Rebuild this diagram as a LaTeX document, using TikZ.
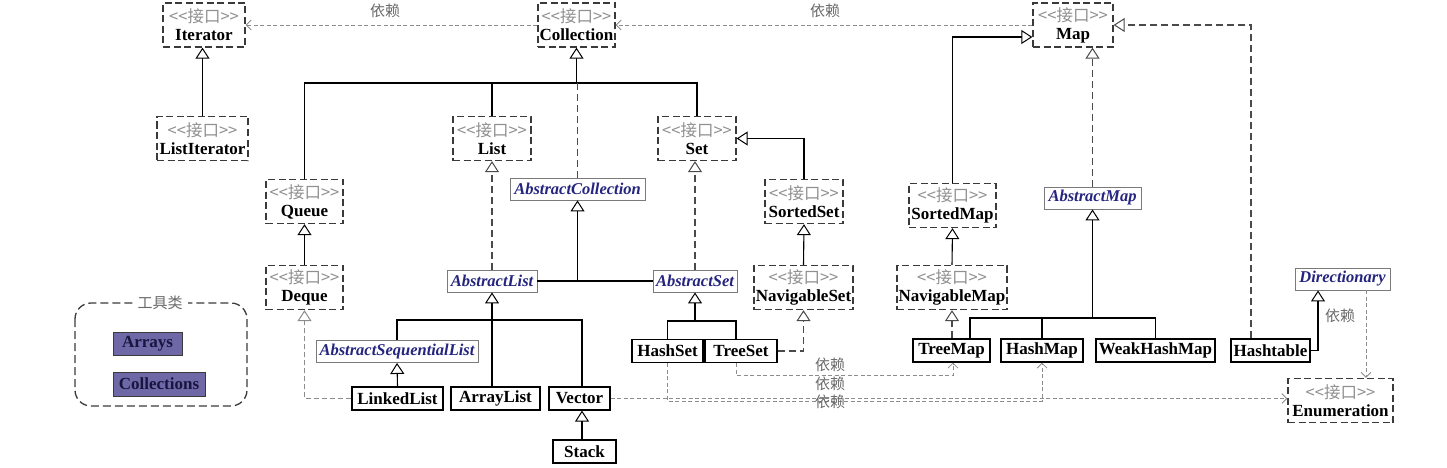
\documentclass[tikz,border=0pt]{standalone}
\usepackage{fontspec}
\setmainfont{Liberation Serif}
\newfontfamily\cjk{Noto Sans CJK SC}
\usetikzlibrary{arrows.meta}
\definecolor{boxdash}{HTML}{3A3A3A}
\definecolor{stgray}{HTML}{909090}
\definecolor{absblue}{HTML}{25257F}
\definecolor{absline}{HTML}{7A7A7A}
\definecolor{depgray}{HTML}{8C8C8C}
\definecolor{lblgray}{HTML}{6A6A6A}
\definecolor{toolfill}{HTML}{6F68A6}
\definecolor{tooltext}{HTML}{16163F}
\definecolor{realgray}{HTML}{4A4A4A}
\newcommand\nmfont{\fontsize{17}{18}\selectfont\bfseries}
\newcommand\absfont{\fontsize{16.5}{18}\selectfont\bfseries\itshape}
\newcommand\stfont{\cjk\mdseries\upshape\fontsize{16.5}{18}\selectfont}
\newcommand\lblfont{\cjk\mdseries\fontsize{15}{17}\selectfont}
\newcommand\stereo{{\stfont\color{stgray}<\kern0pt<接口>\kern0pt>}}
\tikzset{
  iface/.style={draw=boxdash, line width=1.3pt, dash pattern=on 7pt off 3.5pt,
    minimum height=44pt, inner sep=0pt, align=center, font=\nmfont, fill=white},
  absc/.style={draw=absline, line width=0.9pt, minimum height=22pt, inner sep=0pt,
    font=\absfont, text=absblue, fill=white},
  conc/.style={draw=black, line width=1.2pt, minimum height=23pt, inner sep=0pt,
    font=\nmfont, fill=white},
  toolc/.style={draw=boxdash, line width=0.8pt, fill=toolfill, text=tooltext,
    inner sep=0pt, font=\nmfont},
  inh/.style={line width=1.1pt, -{Triangle[open, length=11pt, width=14pt, fill=white, line width=1pt]}},
  real/.style={inh, draw=realgray, dash pattern=on 7pt off 4pt},
  dep/.style={draw=depgray, line width=0.8pt, dash pattern=on 4pt off 2.5pt,
    -{Straight Barb[length=5pt, width=10pt]}},
  lbl/.style={font=\lblfont, text=lblgray, inner sep=0pt},
}
\begin{document}
\begin{tikzpicture}[x=1pt, y=-1pt]
\useasboundingbox (0,0) rectangle (1447,468);
% ---------- interfaces ----------
\node[iface, minimum width=82pt]  (iterator)   at (204,25)     {\stereo\\[0pt]Iterator};
\node[iface, minimum width=77pt]  (collection) at (576.5,25)   {\stereo\\[0pt]Collection};
\node[iface, minimum width=80pt]  (map)        at (1073,25)    {\stereo\\[0pt]Map};
\node[iface, minimum width=91pt]  (listiter)   at (202.5,138.5){\stereo\\[0pt]ListIterator};
\node[iface, minimum width=78pt]  (list)       at (492,138.5)  {\stereo\\[0pt]List};
\node[iface, minimum width=78pt]  (set)        at (697,138.5)  {\stereo\\[0pt]Set};
\node[iface, minimum width=77pt]  (queue)      at (304.5,201.5){\stereo\\[0pt]Queue};
\node[iface, minimum width=78pt]  (sortedset)  at (804,201.5)  {\stereo\\[0pt]SortedSet};
\node[iface, minimum width=77pt]  (deque)      at (304.5,287.5){\stereo\\[0pt]Deque};
\node[iface, minimum width=99pt]  (navset)     at (803.5,287.5){\stereo\\[0pt]NavigableSet};
\node[iface, minimum width=87pt]  (sortedmap)  at (952.5,205.5){\stereo\\[0pt]SortedMap};
\node[iface, minimum width=110pt] (navmap)     at (952,287.5)  {\stereo\\[0pt]NavigableMap};
\node[iface, minimum width=105pt] (enumeration) at (1340.5,400.5){\stereo\\[0pt]Enumeration};
% ---------- abstract classes ----------
\node[absc, minimum width=135pt] (abscoll) at (577.5,189) {AbstractCollection};
\node[absc, minimum width=90pt]  (ablist)  at (492,281)   {AbstractList};
\node[absc, minimum width=84pt]  (abset)   at (695,281)   {AbstractSet};
\node[absc, minimum width=97pt]  (absmap)  at (1092.5,198){AbstractMap};
\node[absc, minimum width=95pt]  (dict)    at (1342.5,279){Directionary};
\node[absc, minimum width=162pt] (asl)     at (397,351.5) {AbstractSequentialList};
% ---------- concrete classes ----------
\node[conc, minimum width=91pt]  (linkedlist)  at (397.5,398.5) {LinkedList};
\node[conc, minimum width=89pt]  (arraylist)   at (495.5,398.5) {ArrayList};
\node[conc, minimum width=61pt]  (vector)      at (579.5,398.5) {Vector};
\node[conc, minimum width=63pt]  (stack)       at (584.5,451.5) {Stack};
\node[conc, minimum width=71pt]  (hashset)     at (667.5,351)   {HashSet};
\node[conc, minimum width=72pt]  (treeset)     at (741,351)     {TreeSet};
\node[conc, minimum width=77pt]  (treemap)     at (951.5,350.5) {TreeMap};
\node[conc, minimum width=82pt]  (hashmap)     at (1042,350.5)  {HashMap};
\node[conc, minimum width=119pt] (weakhashmap) at (1155.5,350.5){WeakHashMap};
\node[conc, minimum width=79pt]  (hashtable)   at (1270.5,350.5){Hashtable};
% ---------- tools ----------
\draw[draw=boxdash, line width=1.3pt, dash pattern=on 8pt off 4pt, rounded corners=16pt]
  (75,303) rectangle (247,406);
\node[lbl, fill=white, inner xsep=5pt] (toollbl) at (160,303) {工具类};
\node[toolc, minimum width=69pt, minimum height=23pt] (arrays) at (147.5,343.5) {Arrays};
\node[toolc, minimum width=92pt, minimum height=24pt] (collections) at (159,384) {Collections};
% ---------- dependencies top ----------
\draw[dep] (collection.west) -- (iterator.east);
\draw[dep] (map.west) -- (collection.east);
\node[lbl] (l1) at (385,11) {依赖};
\node[lbl] (l2) at (825,11) {依赖};
% ---------- Collection hierarchy ----------
\coordinate (cj) at (576.5,83);
\draw[inh] (cj) -- (collection.south);
\draw[line width=1.1pt] (queue.north) |- (cj) -| (set.north);
\draw[line width=1.1pt] (list.north) -- (list.north |- cj);
\draw[draw=realgray, line width=1.1pt, dash pattern=on 7pt off 4pt] (abscoll.north) -- (abscoll.north |- cj);
\draw[inh] (listiter.north) -- (listiter.north |- iterator.south);
\draw[inh] (deque.north) -- (queue.south);
\draw[real] (ablist.north) -- (list.south);
\draw[real] (abset.north) -- (abset.north |- set.south);
\draw[line width=1.1pt] (ablist.east) -- (abset.west);
\draw[inh] (abscoll.south |- ablist.east) -- (abscoll.south);
\draw[inh] (sortedset.north) |- (set.east);
\draw[inh] (navset.north) -- (sortedset.south);
\draw[real] (treeset.east) -| (navset.south);
% AbstractSet children
\coordinate (sj) at (695,321);
\draw[inh] (sj) -- (abset.south);
\draw[line width=1.1pt] (hashset.north) |- (sj) -| ([xshift=-5pt]treeset.north);
% AbstractList children
\coordinate (lj) at (492,320);
\draw[inh] (lj) -- (ablist.south);
\draw[line width=1.1pt] (asl.north) |- (lj) -| ([xshift=2.5pt]vector.north);
\draw[line width=1.1pt] (arraylist.north -| lj) -- (lj);
\draw[inh] (linkedlist.north) -- (asl.south);
\draw[inh] ([xshift=2.5pt]vector.south |- stack.north) -- ([xshift=2.5pt]vector.south);
\draw[real, draw=depgray, line width=0.9pt, dash pattern=on 5pt off 3pt] (linkedlist.west) -| (deque.south);
% ---------- Map hierarchy ----------
\coordinate (mleft) at ([yshift=-12pt]map.west);
\draw[inh] (sortedmap.north) |- (mleft);
\draw[inh] (navmap.north) -- (sortedmap.south);
\draw[real] (treemap.north -| navmap.south) -- (navmap.south);
\draw[real] (absmap.north) -- (absmap.north |- map.south);
\coordinate (mj) at (1092.5,318);
\draw[inh] (mj) -- (absmap.south);
\draw[line width=1.1pt] ([xshift=18.5pt]treemap.north) |- (mj) -| (weakhashmap.north);
\draw[line width=1.1pt] (hashmap.north) -- (hashmap.north |- mj);
\coordinate (ht1) at ([xshift=-19.5pt]hashtable.north);
\draw[real] (ht1) |- (map.east);
\draw[inh] (hashtable.east) -| ([xshift=-24.5pt]dict.south);
\coordinate (dd1) at ([xshift=23.5pt]dict.south);
\draw[dep] (dd1) -- (dd1 |- enumeration.north);
\node[lbl] (l3) at (1340,316) {依赖};
% ---------- bottom dependencies ----------
\coordinate (ts1) at ([xshift=-5pt]treeset.south);
\coordinate (tm1) at ([xshift=1.5pt]treemap.south);
\draw[dep] (ts1) -- ([yshift=-12pt]ts1) -| (tm1);
\draw[dep] (hashset.south) -- ([yshift=-38pt]hashset.south) -| (hashmap.south);
\draw[dep] (vector.east) -- (vector.east -| enumeration.west);
\node[lbl] (l4) at (830,365) {依赖};
\node[lbl] (l5) at (830,384) {依赖};
\node[lbl] (l6) at (830,402) {依赖};
\end{tikzpicture}
\end{document}
